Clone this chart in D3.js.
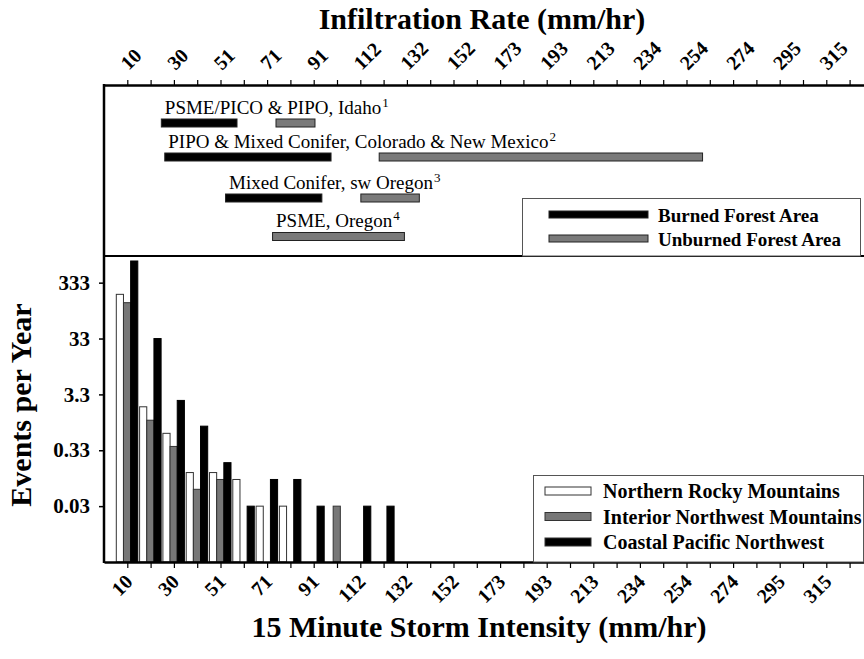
<!DOCTYPE html>
<html><head><meta charset="utf-8">
<script src="https://cdn.jsdelivr.net/npm/d3@7"></script>
<style>body{margin:0;background:#fff}svg{display:block}</style>
</head><body>
<svg id="chart" width="864" height="659"></svg>
<script>
// ---------- DATA ----------
// 15-minute storm intensity bins (mm/hr), 0.4 in/hr classes
const binCenters = [10.16, 20.32, 30.48, 40.64, 50.8, 60.96, 71.12, 81.28, 91.44, 101.6, 111.76, 121.92];
const seriesNames = ["Northern Rocky Mountains", "Interior Northwest Mountains", "Coastal Pacific Northwest"];
const northernRocky = [206, 2.0, 0.67, 0.133, 0.133, 0.1, 0.0333, 0.0333, null, null, null, null];
const interiorNW    = [146, 1.15, 0.39, 0.0667, 0.1, null, null, null, null, 0.0333, null, null];
const coastalPNW    = [814, 33.3, 2.6, 0.9, 0.2, 0.0333, 0.1, 0.1, 0.0333, null, 0.0333, 0.0333];

// x-axis tick labels (mm/hr) and the values they sit at
const xLabelValues = [10.16, 30.48, 50.8, 71.12, 91.44, 111.76, 132.08, 152.4, 172.72, 193.04, 213.36, 233.68, 254, 274.32, 294.64, 314.96];
const xTickLabels  = ["10","30","51","71","91","112","132","152","173","193","213","234","254","274","295","315"];
const yTickValues  = [333.3, 33.33, 3.333, 0.3333, 0.03333];
const yTickLabels  = ["333","33","3.3","0.33","0.03"];

// Infiltration rate ranges (mm/hr)
const studySites   = ["PSME/PICO & PIPO, Idaho", "PIPO & Mixed Conifer, Colorado & New Mexico", "Mixed Conifer, sw Oregon", "PSME, Oregon"];
const siteRefs     = ["1","2","3","4"];
const burnedRange  = [[25, 58], [26.5, 99], [53, 95], null];
const unburnedRange= [[75, 92], [120, 261], [112, 137.5], [73.5, 131]];
const rangeLegend  = ["Burned Forest Area", "Unburned Forest Area"];

// ---------- LAYOUT ----------
const svg = d3.select("#chart");
const FONT = "'Liberation Serif','Times New Roman',Times,serif";
const L = 104, R = 864, TOPAX = 85, MID = 256, BOT = 562;
const seriesColors = ["#ffffff", "#777777", "#000000"];
const rangeColors = ["#000000", "#7a7a7a"];

const x = d3.scaleLinear().domain([0, 331.4]).range([L, R]);
const y = d3.scaleLog().domain([1/300, 1000]).range([BOT, MID]);
const sub = d3.scaleBand().domain(seriesNames).range([-11, 10.5]);

const tickVals = d3.range(1, 33).map(k => k * 10.16);
const labelFor = v => {
  const i = xLabelValues.findIndex(l => Math.abs(l - v) < 0.01);
  return i >= 0 ? xTickLabels[i] : "";
};

// ---------- BARS ----------
const seriesData = [northernRocky, interiorNW, coastalPNW];
const bars = [];
seriesData.forEach((arr, si) => arr.forEach((v, bi) => {
  if (v != null) bars.push({s: seriesNames[si], si, c: binCenters[bi], v});
}));
svg.append("g").selectAll("rect").data(bars).join("rect")
  .attr("x", d => x(d.c) + sub(d.s))
  .attr("width", sub.bandwidth())
  .attr("y", d => y(d.v))
  .attr("height", d => BOT - y(d.v))
  .attr("fill", d => seriesColors[d.si])
  .attr("stroke", d => d.si === 2 ? "#000" : "#333")
  .attr("stroke-width", 1);

// ---------- AXES ----------
const xb = svg.append("g").attr("transform", `translate(0,${BOT})`)
  .call(d3.axisBottom(x).tickValues(tickVals).tickFormat(labelFor).tickSize(6).tickSizeOuter(0));
xb.select(".domain").attr("stroke-width", 2.5);
xb.selectAll(".tick line").attr("stroke-width", 1.2);
xb.selectAll("text").attr("x", 0).attr("y", 0).attr("dy", 0)
  .attr("text-anchor", "end").attr("transform", "translate(6,21) rotate(-45)")
  .style("font-family", FONT).style("font-size", "20px").style("font-weight", "bold").attr("fill", "#000");

const xt = svg.append("g").attr("transform", `translate(0,${TOPAX})`)
  .call(d3.axisTop(x).tickValues(tickVals).tickFormat(labelFor).tickSize(5).tickSizeOuter(0));
xt.select(".domain").attr("stroke-width", 2.5);
xt.selectAll(".tick line").attr("stroke-width", 1.2);
xt.selectAll("text").attr("x", 0).attr("y", 0).attr("dy", 0)
  .attr("text-anchor", "start").attr("transform", "translate(1,-14) rotate(-45)")
  .style("font-family", FONT).style("font-size", "20px").style("font-weight", "bold").attr("fill", "#000");

const ya = svg.append("g").attr("transform", `translate(${L},0)`)
  .call(d3.axisLeft(y).tickValues(yTickValues).tickFormat((d, i) => yTickLabels[i]).tickSize(5).tickSizeOuter(0));
ya.select(".domain").remove();
ya.selectAll(".tick line").attr("stroke-width", 1.5);
ya.selectAll("text").attr("x", -14)
  .style("font-family", FONT).style("font-size", "21px").style("font-weight", "bold").attr("fill", "#000");

// frame lines
svg.append("line").attr("x1", L).attr("x2", L).attr("y1", TOPAX - 1).attr("y2", BOT + 1)
  .attr("stroke", "#000").attr("stroke-width", 2.5);
svg.append("line").attr("x1", L).attr("x2", R).attr("y1", MID).attr("y2", MID)
  .attr("stroke", "#000").attr("stroke-width", 2.2);

// titles
svg.append("text").attr("x", 482).attr("y", 29).attr("text-anchor", "middle")
  .style("font-family", FONT).style("font-size", "30px").style("font-weight", "bold")
  .text("Infiltration Rate (mm/hr)");
svg.append("text").attr("x", 479).attr("y", 637).attr("text-anchor", "middle")
  .style("font-family", FONT).style("font-size", "30px").style("font-weight", "bold")
  .text("15 Minute Storm Intensity (mm/hr)");
svg.append("text").attr("transform", "translate(31,405) rotate(-90)").attr("text-anchor", "middle")
  .style("font-family", FONT).style("font-size", "30px").style("font-weight", "bold")
  .text("Events per Year");

// ---------- TOP PANEL: infiltration ranges ----------
const rowY = [123, 157, 198, 236.5];
const BH = 8;
const panelTop = svg.append("g");
studySites.forEach((name, i) => {
  const starts = [burnedRange[i], unburnedRange[i]].filter(r => r).map(r => x(r[0]));
  const tx = Math.min(...starts) + 3.5;
  const t = panelTop.append("text").attr("x", tx).attr("y", rowY[i] - 9.5)
    .style("font-family", FONT).style("font-size", "19px").attr("fill", "#000");
  t.append("tspan").text(name);
  t.append("tspan").attr("dy", -7).attr("dx", 1).style("font-size", "13px").text(siteRefs[i]);
  [burnedRange[i], unburnedRange[i]].forEach((r, k) => {
    if (!r) return;
    panelTop.append("rect").attr("x", x(r[0])).attr("width", x(r[1]) - x(r[0]))
      .attr("y", rowY[i] - BH / 2).attr("height", BH)
      .attr("fill", rangeColors[k]).attr("stroke", "#222").attr("stroke-width", 1);
  });
});

// top legend
svg.append("rect").attr("x", 522.5).attr("y", 198.5).attr("width", 338).attr("height", MID - 198.5)
  .attr("fill", "#fff").attr("stroke", "#555").attr("stroke-width", 1);
rangeLegend.forEach((name, k) => {
  const cy = 214.5 + k * 24;
  svg.append("rect").attr("x", 549).attr("width", 99).attr("y", cy - 3.5).attr("height", 7)
    .attr("fill", rangeColors[k]).attr("stroke", "#222").attr("stroke-width", 1);
  svg.append("text").attr("x", 658).attr("y", cy + 7)
    .style("font-family", FONT).style("font-size", "19px").style("font-weight", "bold").text(name);
});

// bottom legend
svg.append("rect").attr("x", 533.5).attr("y", 475.5).attr("width", 330).attr("height", BOT - 475.5)
  .attr("fill", "#fff").attr("stroke", "#555").attr("stroke-width", 1);
seriesNames.forEach((name, k) => {
  const cy = 491 + k * 25.5;
  svg.append("rect").attr("x", 545).attr("width", 46).attr("y", cy - 4).attr("height", 8)
    .attr("fill", seriesColors[k]).attr("stroke", "#333").attr("stroke-width", 1);
  svg.append("text").attr("x", 603).attr("y", cy + 7)
    .style("font-family", FONT).style("font-size", "20px").style("font-weight", "bold").text(name);
});
</script>
</body></html>
